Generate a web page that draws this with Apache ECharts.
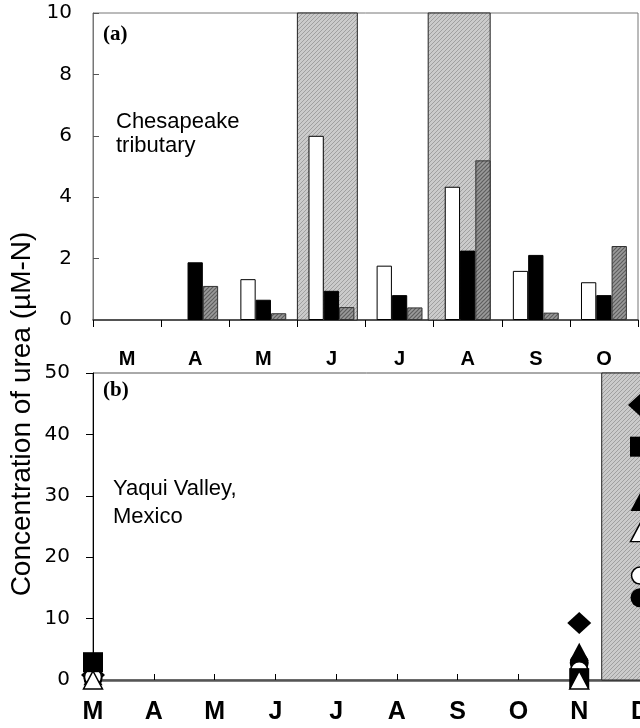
<!DOCTYPE html>
<html>
<head>
<meta charset="utf-8">
<script src="https://cdn.jsdelivr.net/npm/echarts@6/dist/echarts.min.js"></script>
<style>
html,body{margin:0;padding:0;background:#fff;}
#chart{width:640px;height:728px;}
</style>
</head>
<body>
<div id="chart"></div>
<script>
// ---------- DATA ----------
// Panel (a): Chesapeake tributary, monthly bars
const topMonths = ['M', 'A', 'M', 'J', 'J', 'A', 'S', 'O'];
const whiteBars = [null, null, 1.33, 6.0, 1.77, 4.34, 1.6, 1.23];
const blackBars = [null, 1.88, 0.66, 0.95, 0.81, 2.26, 2.12, 0.81];
const grayBars  = [null, 1.11, 0.22, 0.42, 0.41, 5.2, 0.24, 2.41];
// shaded periods in panel (a), in month-index units (0 = start of M)
const topShadeStart = [3.0, 4.92];
const topShadeEnd   = [3.88, 5.83];
const topYTicks = [0, 2, 4, 6, 8, 10];

// Panel (b): Yaqui Valley, Mexico
const bottomMonths = ['M', 'A', 'M', 'J', 'J', 'A', 'S', 'O', 'N', 'D'];
const sampleMonthIndex = [0, 8, 9];
const filledDiamond  = [0.8, 9.3, 44.8];
const filledSquare   = [2.9, 0.3, 38.0];
const filledTriangle = [0.6, 4.6, 29.0];
const openTriangle   = [0.0, 0.0, 24.0];
const openCircle     = [0.5, 1.6, 17.0];
const filledCircle   = [0.3, 2.8, 13.4];
const bottomShadeStart = [8.37];
const bottomShadeEnd   = [9.4];
const bottomYTicks = [0, 10, 20, 30, 40, 50];

// ---------- PATTERNS ----------
function makePattern(base, line, size, lw) {
  const c = document.createElement('canvas');
  c.width = size; c.height = size;
  const g = c.getContext('2d');
  g.fillStyle = base; g.fillRect(0, 0, size, size);
  g.strokeStyle = line; g.lineWidth = lw;
  g.beginPath();
  g.moveTo(0, size); g.lineTo(size, 0);
  g.moveTo(-size / 2, size / 2); g.lineTo(size / 2, -size / 2);
  g.moveTo(size / 2, size * 1.5); g.lineTo(size * 1.5, size / 2);
  g.stroke();
  return { image: c, repeat: 'repeat' };
}
const shadePattern = makePattern('#cbcbcb', '#a0a0a0', 4, 1);
const barPattern = makePattern('#9a9a9a', '#5e5e5e', 4, 1.2);

const chart = echarts.init(document.getElementById('chart'), null, { renderer: 'canvas' });

function shadeRender(params, api) {
  const yMax = api.value(2);
  const p0 = api.coord([api.value(0), yMax]);
  const p1 = api.coord([api.value(1), 0]);
  return {
    type: 'rect',
    shape: { x: p0[0], y: p0[1], width: p1[0] - p0[0], height: p1[1] - p0[1] },
    style: { fill: shadePattern, stroke: '#222', lineWidth: 1 }
  };
}

function toPairs(vals) { return vals.map((v, i) => [sampleMonthIndex[i], v]); }

const tickFont = { fontFamily: 'DejaVu Sans', fontSize: 20, color: '#000' };

const option = {
  animation: false,
  backgroundColor: '#fff',
  grid: [
    { left: 93, top: 13, width: 545, height: 307, show: true, borderColor: '#777', borderWidth: 1,
      containLabel: false, outerBoundsMode: 'none' },
    { left: 93, top: 373, width: 547, height: 307, show: true, borderColor: '#555', borderWidth: 1,
      containLabel: false, outerBoundsMode: 'none' }
  ],
  xAxis: [
    { gridIndex: 0, type: 'category', data: topMonths,
      axisLine: { lineStyle: { color: '#333', width: 1.5 } },
      axisTick: { show: true, inside: false, length: 7, lineStyle: { color: '#000' } },
      axisLabel: { fontFamily: 'Liberation Sans', fontWeight: 'bold', fontSize: 20, color: '#000', margin: 29 },
      splitLine: { show: false } },
    { gridIndex: 1, type: 'value', min: 0, max: 9, interval: 1,
      axisLine: { onZero: false, lineStyle: { color: '#555', width: 2.5 } },
      axisTick: { show: true, inside: true, length: 6, lineStyle: { color: '#000' } },
      axisLabel: { fontFamily: 'Liberation Sans', fontWeight: 'bold', fontSize: 25, color: '#000', margin: 20,
        formatter: v => (Number.isInteger(v) ? bottomMonths[v] : '') },
      splitLine: { show: false } },
    { gridIndex: 0, type: 'value', min: 0, max: 8, show: false },
  ],
  yAxis: [
    { gridIndex: 0, type: 'value', min: topYTicks[0], max: topYTicks[topYTicks.length - 1], interval: 2,
      axisLine: { show: true, lineStyle: { color: '#777' } },
      axisTick: { show: true, inside: true, length: 6, lineStyle: { color: '#555' } },
      axisLabel: Object.assign({ margin: 21 }, tickFont),
      splitLine: { show: false } },
    { gridIndex: 1, type: 'value', min: bottomYTicks[0], max: bottomYTicks[bottomYTicks.length - 1], interval: 10,
      axisLine: { show: true, lineStyle: { color: '#000' } },
      axisTick: { show: true, inside: false, length: 7, lineStyle: { color: '#000' } },
      axisLabel: Object.assign({ margin: 23 }, tickFont),
      splitLine: { show: false } }
  ],
  series: [
    { type: 'custom', xAxisIndex: 2, yAxisIndex: 0, z: 1, renderItem: shadeRender,
      data: topShadeStart.map((s, i) => [s, topShadeEnd[i], 10]) },
    { type: 'custom', xAxisIndex: 1, yAxisIndex: 1, z: 1, renderItem: shadeRender, clip: false,
      data: bottomShadeStart.map((s, i) => [s, bottomShadeEnd[i], 50]) },
    { type: 'bar', xAxisIndex: 0, yAxisIndex: 0, z: 3, data: whiteBars, barWidth: 15.3, barGap: '0%',
      itemStyle: { color: '#fff', borderColor: '#000', borderWidth: 1 } },
    { type: 'bar', xAxisIndex: 0, yAxisIndex: 0, z: 3, data: blackBars, barWidth: 15.3, barGap: '0%',
      itemStyle: { color: '#000', borderColor: '#000', borderWidth: 1 } },
    { type: 'bar', xAxisIndex: 0, yAxisIndex: 0, z: 3, data: grayBars, barWidth: 15.3, barGap: '0%',
      itemStyle: { color: barPattern, borderColor: '#333', borderWidth: 1 } },
    { type: 'scatter', xAxisIndex: 1, yAxisIndex: 1, z: 4, clip: false, data: toPairs(filledCircle),
      symbol: 'circle', symbolSize: 19, itemStyle: { color: '#000', opacity: 1 } },
    { type: 'scatter', xAxisIndex: 1, yAxisIndex: 1, z: 4, clip: false, data: toPairs(filledDiamond),
      symbol: 'diamond', symbolSize: [24, 22], itemStyle: { color: '#000', opacity: 1 } },
    { type: 'scatter', xAxisIndex: 1, yAxisIndex: 1, z: 4, clip: false, data: toPairs(filledTriangle),
      symbol: 'triangle', symbolSize: [19, 18], itemStyle: { color: '#000', opacity: 1 } },
    { type: 'scatter', xAxisIndex: 1, yAxisIndex: 1, z: 4, clip: false, data: toPairs(openCircle),
      symbol: 'circle', symbolSize: 17, itemStyle: { color: '#fff', borderColor: '#000', borderWidth: 1.5, opacity: 1 } },
    { type: 'scatter', xAxisIndex: 1, yAxisIndex: 1, z: 4, clip: false, data: toPairs(filledSquare),
      symbol: 'rect', symbolSize: 20, itemStyle: { color: '#000', opacity: 1 } },
    { type: 'scatter', xAxisIndex: 1, yAxisIndex: 1, z: 4, clip: false, data: toPairs(openTriangle),
      symbol: 'triangle', symbolSize: [19, 18], itemStyle: { color: '#fff', borderColor: '#000', borderWidth: 1.5, opacity: 1 } }
  ],
  graphic: [
    { type: 'text', left: 103, top: 24, z: 10, style: { text: '(a)', font: 'bold 21px "Liberation Serif"', fill: '#000' } },
    { type: 'text', left: 116, top: 110, z: 10, style: { text: 'Chesapeake\ntributary', font: '22px "Liberation Sans"', lineHeight: 24, fill: '#000' } },
    { type: 'text', left: 103, top: 380, z: 10, style: { text: '(b)', font: 'bold 21px "Liberation Serif"', fill: '#000' } },
    { type: 'text', left: 113, top: 475, z: 10, style: { text: 'Yaqui Valley,\nMexico', font: '22px "Liberation Sans"', lineHeight: 28, fill: '#000' } },
    { type: 'text', x: 22, y: 414, rotation: Math.PI / 2, z: 10,
      style: { text: 'Concentration of urea (\u00b5M-N)', font: '28px "Liberation Sans"', fill: '#000', align: 'center', verticalAlign: 'middle' } }
  ]
};
chart.setOption(option);
</script>
</body>
</html>
